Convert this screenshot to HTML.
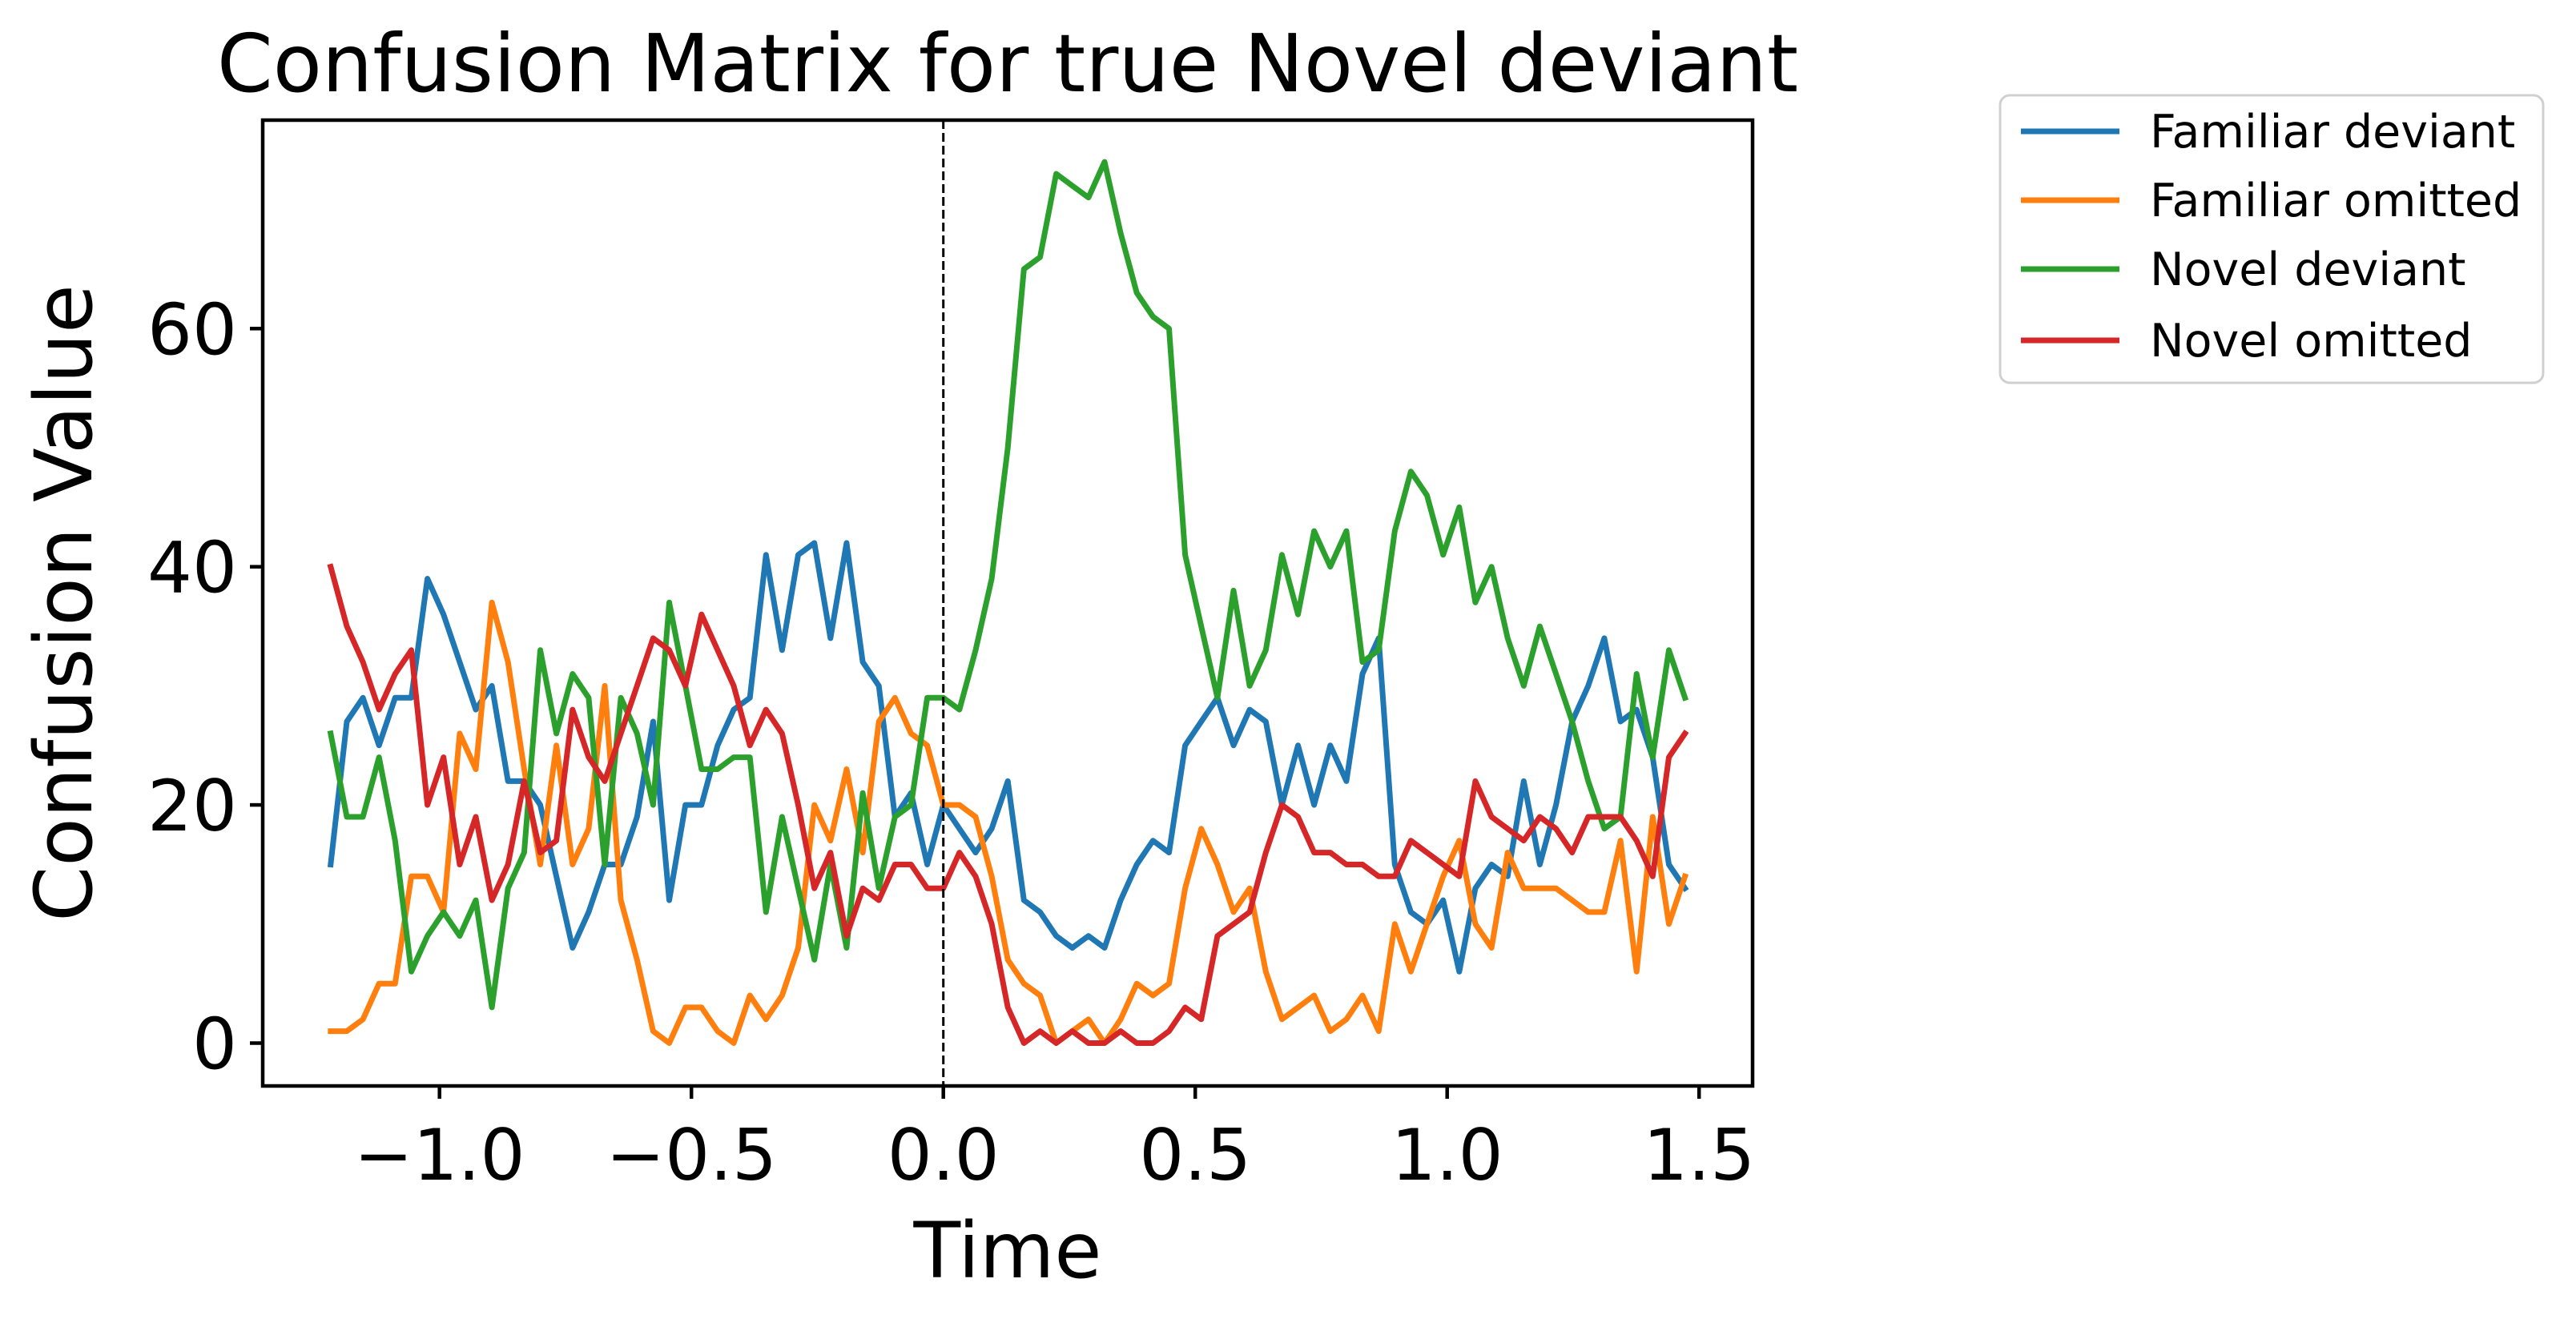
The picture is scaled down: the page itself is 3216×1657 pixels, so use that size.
<!DOCTYPE html>
<html><head><meta charset="utf-8"><style>
html,body{margin:0;padding:0;background:#fff;}
svg{display:block;font-family:"DejaVu Sans","Liberation Sans",sans-serif;}
</style></head>
<body>
<svg id="chart" width="3216" height="1657" viewBox="0 0 3216 1657" xmlns="http://www.w3.org/2000/svg">
<rect x="0" y="0" width="3216" height="1657" fill="#fff"/>
<text x="1258" y="114" font-size="100" text-anchor="middle" fill="#000">Confusion Matrix for true Novel deviant</text>
<g id="plot"></g>
<text x="1258" y="1595" font-size="96" text-anchor="middle" fill="#000">Time</text>
<text transform="translate(114,753) rotate(-90)" font-size="99" text-anchor="middle" fill="#000">Confusion Value</text>
<g id="legend">
<rect x="2497" y="119" width="678" height="359" rx="12" ry="12" fill="#fff" stroke="#d0d0d0" stroke-width="3"/>
</g>
</svg>
<script>
const seriesNames = ["Familiar deviant","Familiar omitted","Novel deviant","Novel omitted"];
const seriesColors = ["#1f77b4","#ff7f0e","#2ca02c","#d62728"];
const tStart = -1.216;
const tStep = 0.032;
const familiarDeviant = [15,27,29,25,29,29,39,36,32,28,30,22,22,20,14,8,11,15,15,19,27,12,
20,20,25,28,29,41,33,41,42,34,42,32,30,19,21,15,20,18,16,18,22,12,
11,9,8,9,8,12,15,17,16,25,27,29,25,28,27,20,25,20,
25,22,31,34,15,11,10,12,6,13,15,14,22,15,20,27,30,34,27,28,24,15,13];
const familiarOmitted = [1,1,2,5,5,14,14,11,26,23,37,32,23,15,25,15,18,30,12,7,1,0,
3,3,1,0,4,2,4,8,20,17,23,16,27,29,26,25,20,20,19,14,7,5,
4,0,1,2,0,2,5,4,5,13,18,15,11,13,6,2,3,4,
1,2,4,1,10,6,10,14,17,10,8,16,13,13,13,12,11,11,17,6,19,10,14];
const novelDeviant = [26,19,19,24,17,6,9,11,9,12,3,13,16,33,26,31,29,15,29,26,20,37,
30,23,23,24,24,11,19,13,7,15,8,21,13,19,20,29,29,28,33,39,50,65,
66,73,72,71,74,68,63,61,60,41,35,29,38,30,33,41,36,43,
40,43,32,33,43,48,46,41,45,37,40,34,30,35,31,27,22,18,19,31,24,33,29];
const novelOmitted = [40,35,32,28,31,33,20,24,15,19,12,15,22,16,17,28,24,22,26,30,34,33,
30,36,33,30,25,28,26,20,13,16,9,13,12,15,15,13,13,16,14,10,3,0,
1,0,1,0,0,1,0,0,1,3,2,9,10,11,16,20,19,16,
16,15,15,14,14,17,16,15,14,22,19,18,17,19,18,16,19,19,19,17,14,24,26];
const xTicks = [-1.0,-0.5,0.0,0.5,1.0,1.5];
const xTickLabels = ["\u22121.0","\u22120.5","0.0","0.5","1.0","1.5"];
const yTicks = [0,20,40,60];
const yTickLabels = ["0","20","40","60"];

const NS="http://www.w3.org/2000/svg";
const L=328,R=2188,T=150,B=1356;
function xs(t){return 1177.7+t*629;}
function ys(v){return 1302.5-v*14.87;}
const plot=document.getElementById('plot');
function mk(tag,attrs,parent){const e=document.createElementNS(NS,tag);for(const k in attrs)e.setAttribute(k,attrs[k]);(parent||plot).appendChild(e);return e;}

const all=[familiarDeviant,familiarOmitted,novelDeviant,novelOmitted];
const keys=["familiar-deviant","familiar-omitted","novel-deviant","novel-omitted"];
all.forEach((arr,si)=>{
  const d=arr.map((v,i)=>(i?'L':'M')+xs(tStart+i*tStep).toFixed(1)+' '+ys(v).toFixed(1)).join(' ');
  const p=mk('path',{d:d,fill:'none',stroke:seriesColors[si],'stroke-width':7,'stroke-linejoin':'round','stroke-linecap':'square'});
  
  
});
const vl=mk('line',{x1:xs(0),x2:xs(0),y1:T,y2:B,stroke:'#000','stroke-width':3,'stroke-dasharray':'11 5'});



const frame=mk('rect',{x:L,y:T,width:R-L,height:B-T,fill:'none',stroke:'#000','stroke-width':4.5});



xTicks.forEach((t,i)=>{
  const x=xs(t);
  const tk=mk('line',{x1:x,x2:x,y1:B,y2:B+16,stroke:'#000','stroke-width':4.5});
  
  
  const tx=mk('text',{x:x,y:B+117,'font-size':88,'text-anchor':'middle',fill:'#000'});
  tx.textContent=xTickLabels[i];
  
  
});
yTicks.forEach((v,i)=>{
  const y=ys(v);
  const tk=mk('line',{x1:L-16,x2:L,y1:y,y2:y,stroke:'#000','stroke-width':4.5});
  
  
  const tx=mk('text',{x:L-32,y:y+32,'font-size':88,'text-anchor':'end',fill:'#000'});
  tx.textContent=yTickLabels[i];
  
  
});

const leg=document.getElementById('legend');
const legY=[164,250,336,425];
seriesNames.forEach((n,i)=>{
  const ln=mk('line',{x1:2523,x2:2646,y1:legY[i],y2:legY[i],stroke:seriesColors[i],'stroke-width':7},leg);
  
  
  const tx=mk('text',{x:2684,y:legY[i]+20,'font-size':57,fill:'#000'},leg);
  tx.textContent=n;
  
  
});
</script>
</body></html>
